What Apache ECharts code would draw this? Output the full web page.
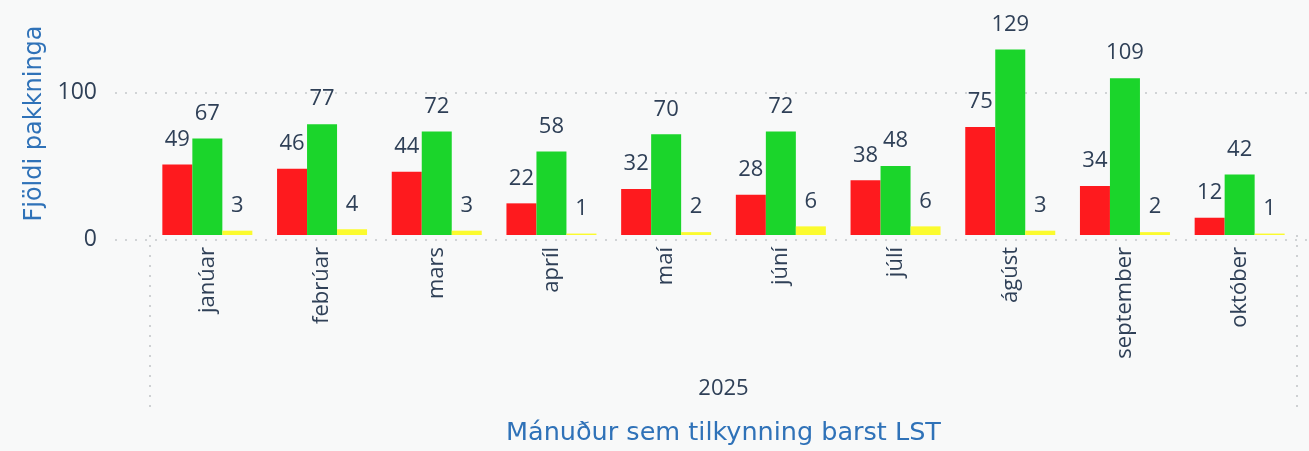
<!DOCTYPE html>
<html>
<head>
<meta charset="utf-8">
<script src="https://cdn.jsdelivr.net/npm/echarts@6/dist/echarts.min.js"></script>
<style>
html,body{margin:0;padding:0;background:#f8f9f9;}
#c{width:1309px;height:451px;}
</style>
</head>
<body>
<div id="c"></div>
<script>
const months = ['janúar','febrúar','mars','apríl','maí','júní','júlí','ágúst','september','október'];
const years = ['2025'];
const redValues = [49, 46, 44, 22, 32, 28, 38, 75, 34, 12];
const greenValues = [67, 77, 72, 58, 70, 72, 48, 129, 109, 42];
const yellowValues = [3, 4, 3, 1, 2, 6, 6, 3, 2, 1];
const yTicks = [0, 100];

const FONT = '"Open Sans", "Noto Sans", sans-serif';
const TITLE_FONT = '"DejaVu Sans", "Open Sans", sans-serif';
const dotted = {color: '#c4c7ca', width: 1.6, type: [2, 8]};
const labelColor = '#2f4057';
const titleBlue = '#2f72b8';
const Y_MAX = 155;

function barSeries(name, data, color) {
  return {
    name: name, type: 'bar', data: data, xAxisIndex: 0, yAxisIndex: 0,
    barWidth: 30, barGap: '0%',
    itemStyle: {color: color},
    label: {show: true, position: 'top', distance: 14, fontFamily: FONT, fontSize: 22, color: labelColor}
  };
}

const chart = echarts.init(document.getElementById('c'), null, {renderer: 'canvas'});
chart.setOption({
  backgroundColor: '#f8f9f9',
  animation: false,
  grid: [
    {left: 150, right: 12, top: 12, bottom: 211.5},
    {left: 115, right: 0, top: 12, bottom: 211.5}
  ],
  xAxis: [
    {
      type: 'category', gridIndex: 0, position: 'bottom', data: months,
      axisLine: {show: false}, axisTick: {show: false},
      axisLabel: {rotate: 90, margin: 12, fontFamily: FONT, fontSize: 22, color: labelColor, interval: 0},
      name: 'Mánuður sem tilkynning barst LST', nameLocation: 'middle', nameGap: 185,
      nameTextStyle: {fontFamily: TITLE_FONT, fontSize: 25.5, color: titleBlue}
    },
    {
      type: 'category', gridIndex: 0, position: 'bottom', data: years, boundaryGap: true,
      axisLine: {show: false},
      axisTick: {show: true, length: 172, lineStyle: dotted},
      axisLabel: {margin: 143, fontFamily: FONT, fontSize: 22, color: labelColor}
    },
    {type: 'category', gridIndex: 1, show: false, data: months}
  ],
  yAxis: [
    {
      type: 'value', gridIndex: 0, min: 0, max: Y_MAX, show: true,
      axisLine: {show: false}, axisTick: {show: false}, axisLabel: {show: false}, splitLine: {show: false},
      name: 'Fjöldi pakkninga', nameLocation: 'middle', nameRotate: 90, nameGap: 103,
      nameTextStyle: {fontFamily: TITLE_FONT, fontSize: 24, color: titleBlue}
    },
    {
      type: 'value', gridIndex: 1, min: yTicks[0], max: Y_MAX, interval: yTicks[1] - yTicks[0],
      axisLine: {show: false}, axisTick: {show: false},
      axisLabel: {margin: 18, fontFamily: FONT, fontSize: 23, color: labelColor, showMaxLabel: false},
      splitLine: {show: true, lineStyle: dotted, showMaxLine: false}
    }
  ],
  series: [
    barSeries('Rauður', redValues, '#fe1a1e'),
    barSeries('Grænn', greenValues, '#1bd52b'),
    barSeries('Gulur', yellowValues, '#fbfb2e')
  ]
});
</script>
</body>
</html>
